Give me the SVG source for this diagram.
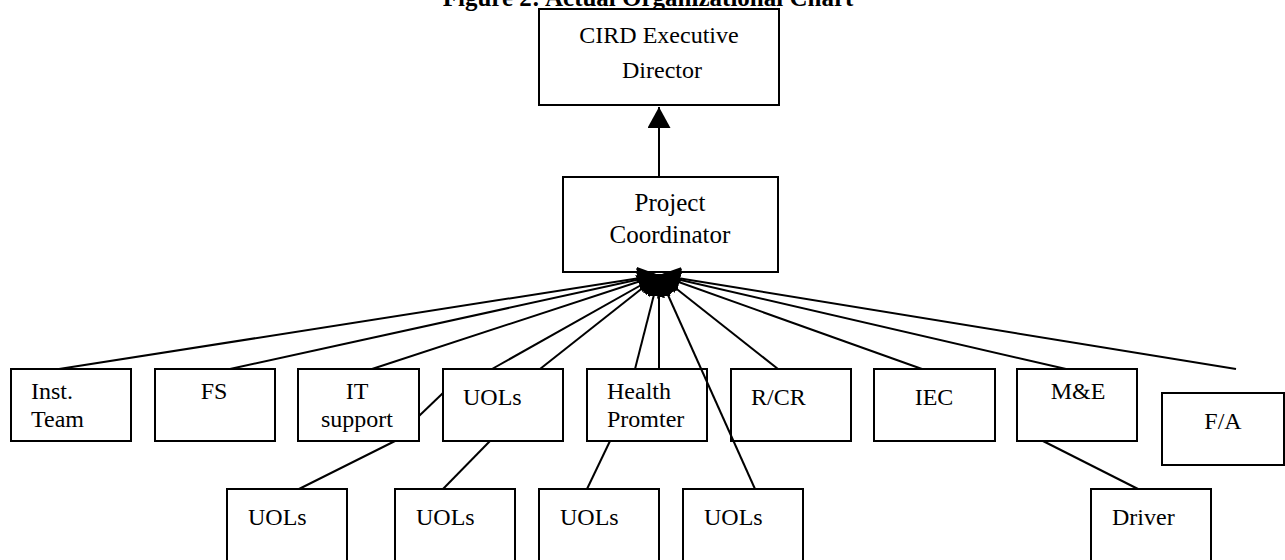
<svg xmlns="http://www.w3.org/2000/svg" width="1285" height="560" viewBox="0 0 1285 560">
  <style>
    .box { fill: #fff; stroke: #000; stroke-width: 2; }
    .lbl { font-family: "Liberation Serif", "Times New Roman", serif; font-size: 24px; fill: #000; }
    .big { font-size: 25px; }
    .mid { text-anchor: middle; }
    .title { font-family: "Liberation Serif", "Times New Roman", serif; font-size: 25px; font-weight: bold; fill: #000; text-anchor: middle; }
    .ln { stroke: #000; stroke-width: 2; fill: none; }
  </style>
  <defs>
    <marker id="ah" markerUnits="userSpaceOnUse" markerWidth="21" markerHeight="23" refX="21" refY="11.5" orient="auto" viewBox="0 0 21 23">
      <path d="M0,0 L21,11.5 L0,23 z" fill="#000"/>
    </marker>
  </defs>

  <rect width="1285" height="560" fill="#fff"/>

  <!-- heading, partly above the top edge -->
  <text class="title" x="648" y="6">Figure 2: Actual Organizational Chart</text>

  <!-- nodes -->
  <g id="director">
    <rect class="box" x="539" y="9" width="240" height="96"/>
    <text class="lbl mid" x="659" y="43">CIRD Executive</text>
    <text class="lbl mid" x="662" y="78">Director</text>
  </g>
  <g id="coordinator">
    <rect class="box" x="563" y="177" width="215" height="95"/>
    <text class="lbl big mid" x="670" y="211">Project</text>
    <text class="lbl big mid" x="670" y="243">Coordinator</text>
  </g>

  <g id="inst-team">
    <rect class="box" x="11" y="369" width="120" height="72"/>
    <text class="lbl" x="31" y="399">Inst.</text>
    <text class="lbl" x="31" y="427">Team</text>
  </g>
  <g id="fs">
    <rect class="box" x="155" y="369" width="120" height="72"/>
    <text class="lbl mid" x="214" y="399">FS</text>
  </g>
  <g id="it-support">
    <rect class="box" x="298" y="369" width="121" height="72"/>
    <text class="lbl mid" x="357" y="399">IT</text>
    <text class="lbl mid" x="357" y="427">support</text>
  </g>
  <g id="uols-main">
    <rect class="box" x="443" y="369" width="120" height="72"/>
    <text class="lbl" x="463" y="405">UOLs</text>
  </g>
  <g id="health-promter">
    <rect class="box" x="587" y="369" width="120" height="72"/>
    <text class="lbl" x="607" y="399">Health</text>
    <text class="lbl" x="607" y="427">Promter</text>
  </g>
  <g id="r-cr">
    <rect class="box" x="731" y="369" width="120" height="72"/>
    <text class="lbl" x="751" y="405">R/CR</text>
  </g>
  <g id="iec">
    <rect class="box" x="874" y="369" width="121" height="72"/>
    <text class="lbl mid" x="934" y="405">IEC</text>
  </g>
  <g id="m-e">
    <rect class="box" x="1017" y="369" width="120" height="72"/>
    <text class="lbl mid" x="1078" y="399">M&amp;E</text>
  </g>
  <g id="f-a">
    <rect class="box" x="1162" y="393" width="122" height="72"/>
    <text class="lbl mid" x="1223" y="429">F/A</text>
  </g>

  <g id="uols-1">
    <rect class="box" x="227" y="489" width="120" height="90"/>
    <text class="lbl" x="248" y="525">UOLs</text>
  </g>
  <g id="uols-2">
    <rect class="box" x="395" y="489" width="120" height="90"/>
    <text class="lbl" x="416" y="525">UOLs</text>
  </g>
  <g id="uols-3">
    <rect class="box" x="539" y="489" width="120" height="90"/>
    <text class="lbl" x="560" y="525">UOLs</text>
  </g>
  <g id="uols-4">
    <rect class="box" x="683" y="489" width="120" height="90"/>
    <text class="lbl" x="704" y="525">UOLs</text>
  </g>
  <g id="driver">
    <rect class="box" x="1091" y="489" width="120" height="90"/>
    <text class="lbl" x="1112" y="525">Driver</text>
  </g>

  <!-- connectors: every reporting line ends in an arrowhead at the coordinator -->
  <g id="connectors">
    <line class="ln" x1="659" y1="177" x2="659" y2="107" marker-end="url(#ah)"/>

    <line class="ln" x1="59" y1="369" x2="659" y2="275" marker-end="url(#ah)"/>
    <line class="ln" x1="230" y1="369" x2="659" y2="275" marker-end="url(#ah)"/>
    <line class="ln" x1="372" y1="369" x2="659" y2="275" marker-end="url(#ah)"/>
    <line class="ln" x1="492" y1="369" x2="659" y2="275" marker-end="url(#ah)"/>
    <line class="ln" x1="540" y1="369" x2="659" y2="275" marker-end="url(#ah)"/>
    <line class="ln" x1="635" y1="369" x2="659" y2="275" marker-end="url(#ah)"/>
    <line class="ln" x1="659" y1="369" x2="659" y2="275" marker-end="url(#ah)"/>
    <line class="ln" x1="755" y1="489" x2="659" y2="275" marker-end="url(#ah)"/>
    <line class="ln" x1="778" y1="369" x2="659" y2="275" marker-end="url(#ah)"/>
    <line class="ln" x1="922" y1="369" x2="659" y2="275" marker-end="url(#ah)"/>
    <line class="ln" x1="1066" y1="369" x2="659" y2="275" marker-end="url(#ah)"/>
    <line class="ln" x1="1236" y1="369" x2="659" y2="275" marker-end="url(#ah)"/>

    <line class="ln" x1="419" y1="416" x2="443" y2="393"/>
    <line class="ln" x1="299" y1="489" x2="395" y2="441"/>
    <line class="ln" x1="443" y1="489" x2="490" y2="441"/>
    <line class="ln" x1="587" y1="489" x2="610" y2="441"/>
    <line class="ln" x1="1138" y1="489" x2="1043" y2="441"/>
  </g>
</svg>
